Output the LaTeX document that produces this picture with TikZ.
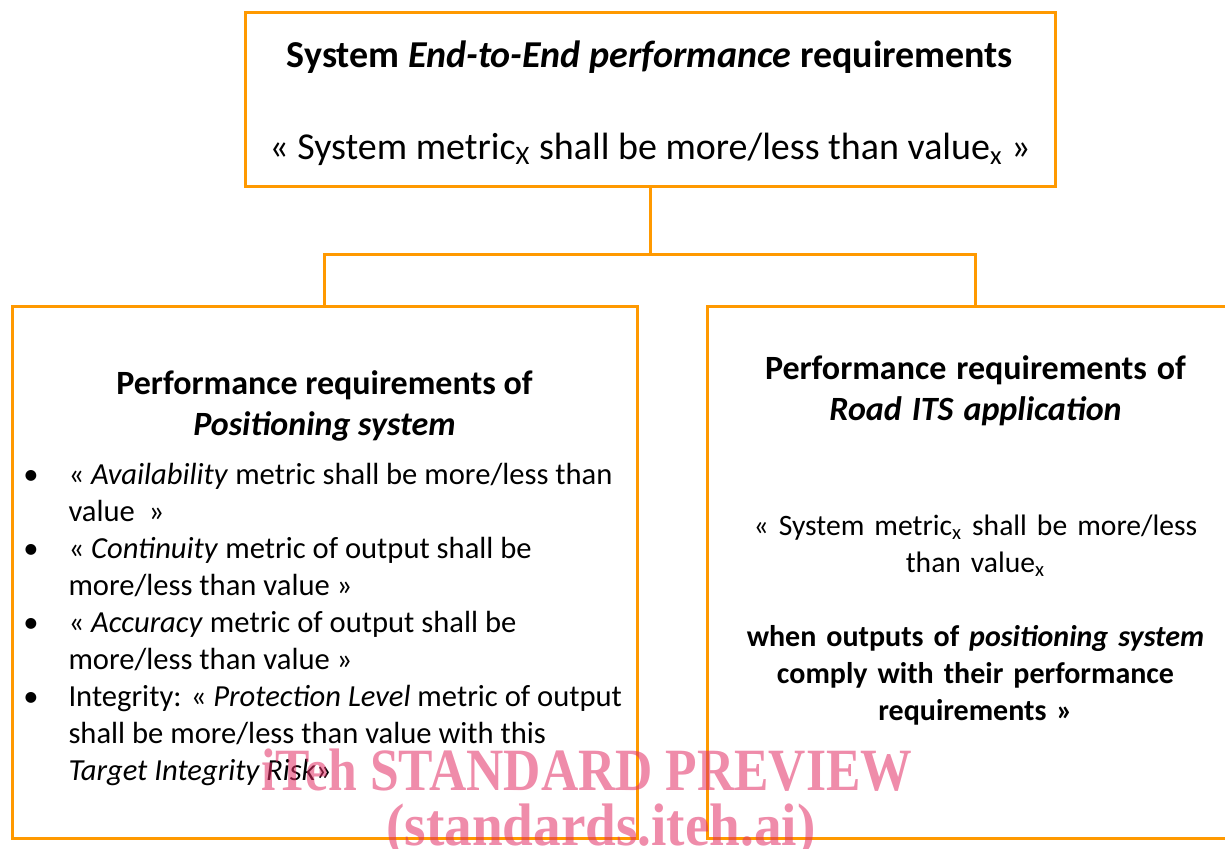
\documentclass[tikz,border=0pt]{standalone}
\usepackage{fontspec}
\setmainfont{Carlito}
\newfontfamily\stampfont{Liberation Serif}
\usepackage{graphicx}
\usepackage{enumitem}

\definecolor{boxorange}{RGB}{255,153,0}
\definecolor{stamppink}{RGB}{225,45,100}

\newcommand\bigsz{\fontsize{19}{23}\selectfont}
\newcommand\headsz{\fontsize{17}{20.5}\selectfont}
\newcommand\bodysz{\fontsize{15}{18.5}\selectfont}

% box contents
\newcommand\posreqs{%
    \begin{minipage}{301pt}
    \vspace*{6pt}
    {\centering\headsz\bfseries Performance requirements of\\ \textit{Positioning system}\par}
    \vspace{6pt}
    \raggedright\fontsize{15.3}{18.5}\selectfont
    \begin{itemize}[leftmargin=22.5pt, labelsep=15pt, itemsep=0pt, topsep=0pt, parsep=0pt, partopsep=0pt]
        \item « \textit{Availability} metric shall be more/less than\\ value~~»
        \item « \textit{Continuity} metric of output shall be\\ more/less than value »
        \item « \textit{Accuracy} metric of output shall be\\ more/less than value »
        \item Integrity: « \textit{Protection Level} metric of output\\ shall be more/less than value with this\\ \textit{Target Integrity Risk}»
    \end{itemize}
    \end{minipage}}
\newcommand\itsreqs{%
    {\headsz\bfseries Performance requirements of\\ \textit{Road ITS application}\par}
    \vspace{39pt}
    {\fontsize{14.8}{18.5}\selectfont « System metric\textsubscript{x} shall be more/less\\ than value\textsubscript{x}\par}
    \vspace{18.5pt}
    \textbf{when outputs of \textit{positioning system}\\ comply with their performance\\ requirements »}\\[16pt]\mbox{}}

\begin{document}
\begin{tikzpicture}[
        x=0.5pt, y=-0.5pt,
        every node/.style={draw=boxorange, rectangle, line width=1.5pt, align=center},
        edge from parent/.style={draw=boxorange, line width=1.5pt},
        edge from parent path={(\tikzparentnode.south) -- ++(0,66) -| (\tikzchildnode.north)},
        level distance=236.25pt,
        sibling distance=325.5pt,
        topbox/.style={minimum width=405pt, minimum height=87pt, font=\bigsz},
        posbox/.style={minimum width=312.5pt, minimum height=265.5pt, font=\bodysz},
        appbox/.style={minimum width=268.5pt, minimum height=265.5pt, text width=250pt, font=\bodysz},
        stamp/.style={draw=none, anchor=base, text=stamppink, text opacity=0.55,
            font=\stampfont\bfseries\fontsize{30}{32}\selectfont},
    ]
    \useasboundingbox (0,0) rectangle (1225,849);
    \clip (0,0) rectangle (1225,849);

    \node[topbox](e2e) at (650,100){\rule{0pt}{16.5pt}\textbf{System \textit{End-to-End performance} requirements}\\[23pt]
        « System metric\textsubscript{X} shall be more/less than value\textsubscript{x} »}
    child{node[posbox](pos){\posreqs}}
    child{node[appbox](its){\itsreqs}}
    ;

    % stamp over the boxes
    \node[stamp](wm1) at (587,790){\scalebox{0.86}[1]{iTeh STANDARD PREVIEW}};
    \node[stamp](wm2) at (601,845){\scalebox{0.92}[1]{(standards.iteh.ai)}};

\end{tikzpicture}
\end{document}
